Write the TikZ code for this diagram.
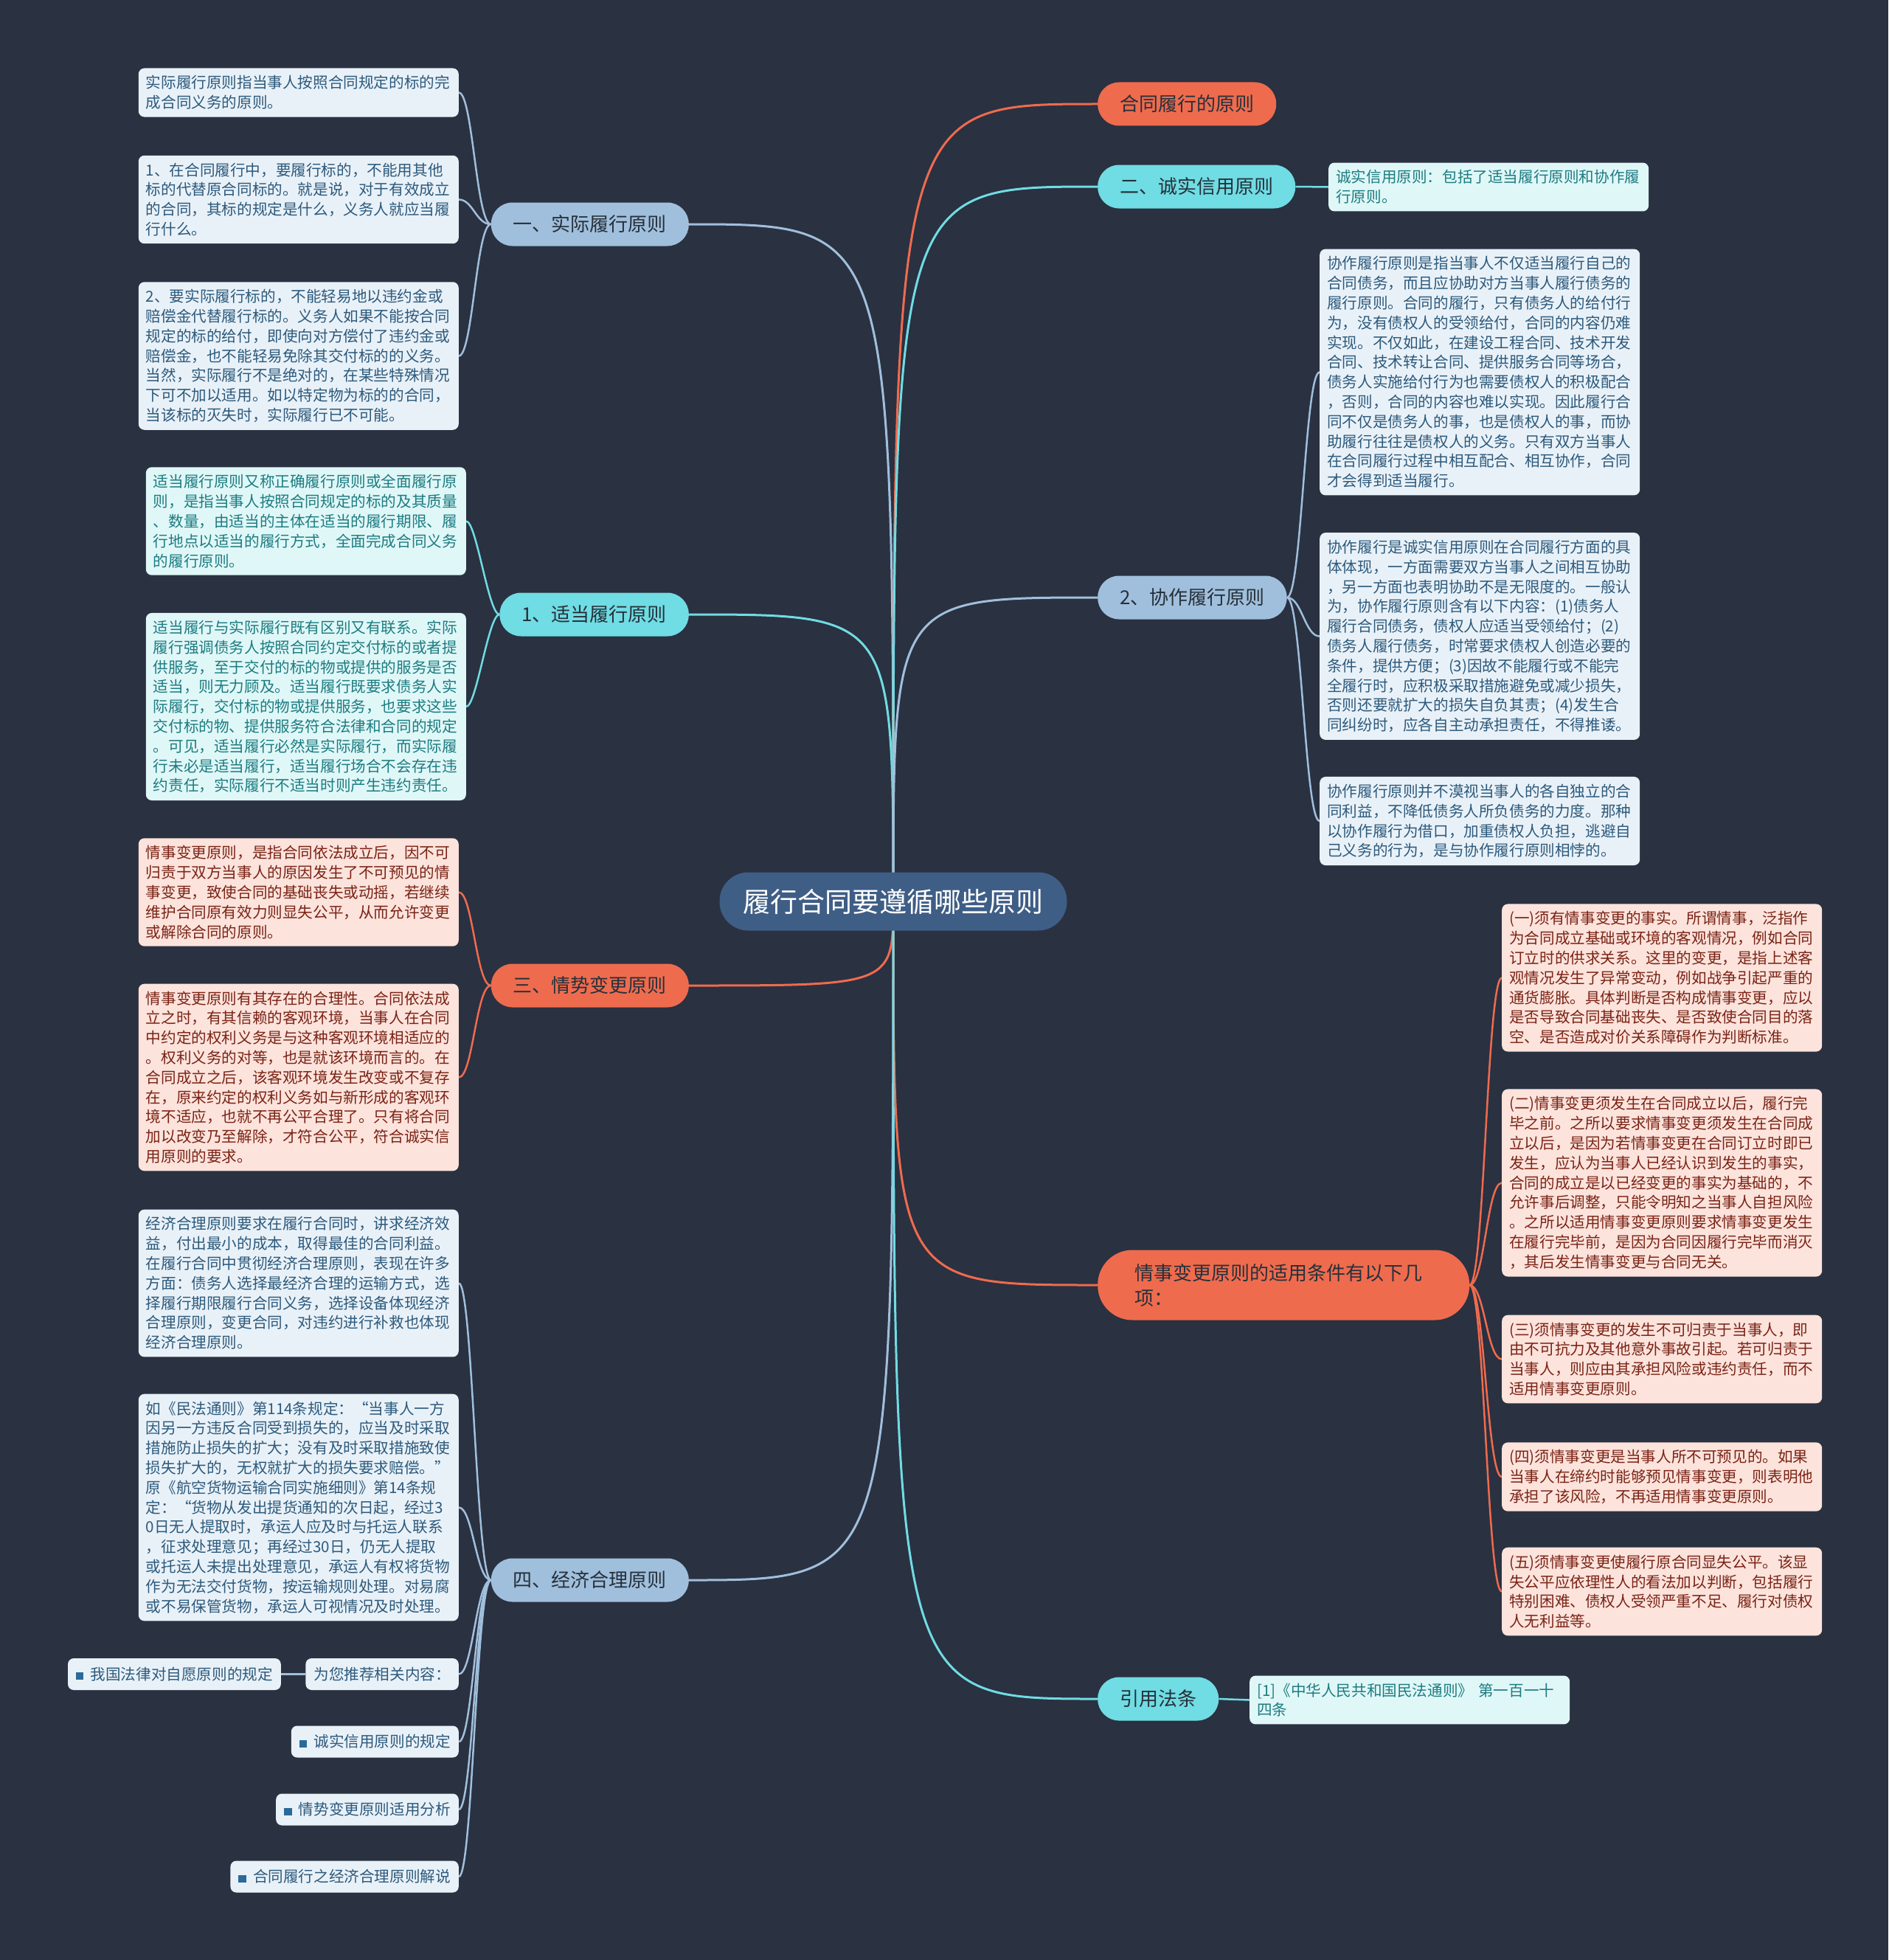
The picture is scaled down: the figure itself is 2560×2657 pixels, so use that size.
\documentclass[tikz,border=0pt]{standalone}
\usepackage{fontspec}
\setmainfont{Noto Sans CJK SC}
\usepackage{tikz}
\usetikzlibrary{calc}
\definecolor{bgdark}{HTML}{2A3141}
\definecolor{ctrfill}{HTML}{3F5E86}
\definecolor{coral}{HTML}{EF6B4E}
\definecolor{cyanb}{HTML}{70DCE3}
\definecolor{steel}{HTML}{A0BFDC}
\definecolor{steelleaf}{HTML}{E9F1F8}
\definecolor{steeltext}{HTML}{2C5A7C}
\definecolor{cyanleaf}{HTML}{E0F7F8}
\definecolor{cyantext}{HTML}{1C7C80}
\definecolor{coralleaf}{HTML}{FCE3DC}
\definecolor{coraltext}{HTML}{7A2315}
\definecolor{branchtext}{HTML}{26303A}
\definecolor{bulletblue}{HTML}{2A6A9A}
\pgfdeclarelayer{back}
\pgfdeclarelayer{links}
\pgfsetlayers{back,links,main}
\newcommand{\recmark}{\textcolor{bulletblue}{\rule{0.5em}{0.5em}}\hspace{0.45em}}

\begin{document}
\begin{tikzpicture}[x=1pt, y=-1pt,
  centre/.style={fill=ctrfill, text=white, rounded corners=39pt, minimum height=79pt,
    minimum width=471pt, font=\fontsize{37}{40}\selectfont},
  branch/.style={rounded corners=29pt, minimum height=59pt, inner xsep=30pt,
    text=branchtext, font=\fontsize{26}{34}\selectfont},
  leaf/.style={rounded corners=8pt, inner xsep=10pt, inner ysep=10pt, text width=414pt,
    align=left, font=\fontsize{20.6}{26.8}\selectfont},
  steelleafbox/.style={leaf, fill=steelleaf, text=steeltext},
  cyanleafbox/.style={leaf, fill=cyanleaf, text=cyantext},
  coralleafbox/.style={leaf, fill=coralleaf, text=coraltext},
  recbox/.style={rounded corners=8pt, fill=steelleaf, text=steeltext, inner xsep=11pt,
    minimum height=43pt, font=\fontsize{20.6}{26}\selectfont},
  trunk/.style={line width=3pt},
  twig/.style={line width=2.5pt}]

  % background and frame
  \begin{pgfonlayer}{back}
    \fill[bgdark] (0,0) rectangle (2560,2657);
  \end{pgfonlayer}
  \useasboundingbox (0,0) rectangle (2560,2657);

  % centre
  \node[centre] (ctr) at (1211,1222) {履行合同要遵循哪些原则};

  % left branches
  \node[branch, fill=steel, anchor=east] (b1) at (934,304) {一、实际履行原则};
  \node[branch, fill=cyanb, anchor=east] (b2) at (934,833) {1、适当履行原则};
  \node[branch, fill=coral, anchor=east] (b3) at (934,1336) {三、情势变更原则};
  \node[branch, fill=steel, anchor=east] (b4) at (934,2142) {四、经济合理原则};

  % right branches
  \node[branch, fill=coral, anchor=west] (r1) at (1488,141) {合同履行的原则};
  \node[branch, fill=cyanb, anchor=west] (r2) at (1488,253) {二、诚实信用原则};
  \node[branch, fill=steel, anchor=west] (r3) at (1488,810) {2、协作履行原则};
  \node[branch, fill=coral, anchor=west, rounded corners=47pt, minimum height=95pt,
    inner xsep=50pt, text width=404pt, align=left] (r4) at (1488,1742)
    {情事变更原则的适用条件有以下几\\项：};
  \node[branch, fill=cyanb, anchor=west] (r5) at (1488,2303) {引用法条};

  % leaves of b1
  \node[steelleafbox, anchor=east] (b1a) at (622,125.5)
    {实际履行原则指当事人按照合同规定的标的完\\成合同义务的原则。};
  \node[steelleafbox, anchor=east] (b1b) at (622,270.5)
    {1、在合同履行中，要履行标的，不能用其他\\标的代替原合同标的。就是说，对于有效成立\\的合同，其标的规定是什么，义务人就应当履\\行什么。};
  \node[steelleafbox, anchor=east] (b1c) at (622,482.5)
    {2、要实际履行标的，不能轻易地以违约金或\\赔偿金代替履行标的。义务人如果不能按合同\\规定的标的给付，即使向对方偿付了违约金或\\赔偿金，也不能轻易免除其交付标的的义务。\\当然，实际履行不是绝对的，在某些特殊情况\\下可不加以适用。如以特定物为标的的合同，\\当该标的灭失时，实际履行已不可能。};

  % leaves of b2
  \node[cyanleafbox, anchor=east] (b2a) at (632,706.5)
    {适当履行原则又称正确履行原则或全面履行原\\则，是指当事人按照合同规定的标的及其质量\\、数量，由适当的主体在适当的履行期限、履\\行地点以适当的履行方式，全面完成合同义务\\的履行原则。};
  \node[cyanleafbox, anchor=east] (b2b) at (632,958)
    {适当履行与实际履行既有区别又有联系。实际\\履行强调债务人按照合同约定交付标的或者提\\供服务，至于交付的标的物或提供的服务是否\\适当，则无力顾及。适当履行既要求债务人实\\际履行，交付标的物或提供服务，也要求这些\\交付标的物、提供服务符合法律和合同的规定\\。可见，适当履行必然是实际履行，而实际履\\行未必是适当履行，适当履行场合不会存在违\\约责任，实际履行不适当时则产生违约责任。};

  % leaves of b3
  \node[coralleafbox, anchor=east] (b3a) at (622,1209.5)
    {情事变更原则，是指合同依法成立后，因不可\\归责于双方当事人的原因发生了不可预见的情\\事变更，致使合同的基础丧失或动摇，若继续\\维护合同原有效力则显失公平，从而允许变更\\或解除合同的原则。};
  \node[coralleafbox, anchor=east] (b3b) at (622,1460.5)
    {情事变更原则有其存在的合理性。合同依法成\\立之时，有其信赖的客观环境，当事人在合同\\中约定的权利义务是与这种客观环境相适应的\\。权利义务的对等，也是就该环境而言的。在\\合同成立之后，该客观环境发生改变或不复存\\在，原来约定的权利义务如与新形成的客观环\\境不适应，也就不再公平合理了。只有将合同\\加以改变乃至解除，才符合公平，符合诚实信\\用原则的要求。};

  % leaves of b4
  \node[steelleafbox, anchor=east] (b4a) at (622,1739.5)
    {经济合理原则要求在履行合同时，讲求经济效\\益，付出最小的成本，取得最佳的合同利益。\\在履行合同中贯彻经济合理原则，表现在许多\\方面：债务人选择最经济合理的运输方式，选\\择履行期限履行合同义务，选择设备体现经济\\合理原则，变更合同，对违约进行补救也体现\\经济合理原则。};
  \node[steelleafbox, anchor=east] (b4b) at (622,2043.5)
    {如《民法通则》第114条规定：“当事人一方\\因另一方违反合同受到损失的，应当及时采取\\措施防止损失的扩大；没有及时采取措施致使\\损失扩大的，无权就扩大的损失要求赔偿。”\\原《航空货物运输合同实施细则》第14条规\\定：“货物从发出提货通知的次日起，经过3\\0日无人提取时，承运人应及时与托运人联系\\，征求处理意见；再经过30日，仍无人提取\\或托运人未提出处理意见，承运人有权将货物\\作为无法交付货物，按运输规则处理。对易腐\\或不易保管货物，承运人可视情况及时处理。};
  \node[recbox, anchor=east] (rec) at (622,2269.5) {为您推荐相关内容：};
  \node[recbox, anchor=east] (rec0) at (381,2269.5) {\recmark 我国法律对自愿原则的规定};
  \node[recbox, anchor=east] (rec1) at (622,2361) {\recmark 诚实信用原则的规定};
  \node[recbox, anchor=east] (rec2) at (622,2453) {\recmark 情势变更原则适用分析};
  \node[recbox, anchor=east] (rec3) at (622,2544) {\recmark 合同履行之经济合理原则解说};

  % leaves of r2, r3
  \node[cyanleafbox, anchor=west] (r2a) at (1801,253.5)
    {诚实信用原则：包括了适当履行原则和协作履\\行原则。};
  \node[steelleafbox, anchor=west] (r3a) at (1789,504.5)
    {协作履行原则是指当事人不仅适当履行自己的\\合同债务，而且应协助对方当事人履行债务的\\履行原则。合同的履行，只有债务人的给付行\\为，没有债权人的受领给付，合同的内容仍难\\实现。不仅如此，在建设工程合同、技术开发\\合同、技术转让合同、提供服务合同等场合，\\债务人实施给付行为也需要债权人的积极配合\\，否则，合同的内容也难以实现。因此履行合\\同不仅是债务人的事，也是债权人的事，而协\\助履行往往是债权人的义务。只有双方当事人\\在合同履行过程中相互配合、相互协作，合同\\才会得到适当履行。};
  \node[steelleafbox, anchor=west] (r3b) at (1789,862.5)
    {协作履行是诚实信用原则在合同履行方面的具\\体体现，一方面需要双方当事人之间相互协助\\，另一方面也表明协助不是无限度的。一般认\\为，协作履行原则含有以下内容：(1)债务人\\履行合同债务，债权人应适当受领给付；(2)\\债务人履行债务，时常要求债权人创造必要的\\条件，提供方便；(3)因故不能履行或不能完\\全履行时，应积极采取措施避免或减少损失，\\否则还要就扩大的损失自负其责；(4)发生合\\同纠纷时，应各自主动承担责任，不得推诿。};
  \node[steelleafbox, anchor=west] (r3c) at (1789,1113)
    {协作履行原则并不漠视当事人的各自独立的合\\同利益，不降低债务人所负债务的力度。那种\\以协作履行为借口，加重债权人负担，逃避自\\己义务的行为，是与协作履行原则相悖的。};

  % leaves of r4
  \node[coralleafbox, anchor=west] (r4a) at (2036,1325.5)
    {(一)须有情事变更的事实。所谓情事，泛指作\\为合同成立基础或环境的客观情况，例如合同\\订立时的供求关系。这里的变更，是指上述客\\观情况发生了异常变动，例如战争引起严重的\\通货膨胀。具体判断是否构成情事变更，应以\\是否导致合同基础丧失、是否致使合同目的落\\空、是否造成对价关系障碍作为判断标准。};
  \node[coralleafbox, anchor=west] (r4b) at (2036,1603.5)
    {(二)情事变更须发生在合同成立以后，履行完\\毕之前。之所以要求情事变更须发生在合同成\\立以后，是因为若情事变更在合同订立时即已\\发生，应认为当事人已经认识到发生的事实，\\合同的成立是以已经变更的事实为基础的，不\\允许事后调整，只能令明知之当事人自担风险\\。之所以适用情事变更原则要求情事变更发生\\在履行完毕前，是因为合同因履行完毕而消灭\\，其后发生情事变更与合同无关。};
  \node[coralleafbox, anchor=west] (r4c) at (2036,1842.5)
    {(三)须情事变更的发生不可归责于当事人，即\\由不可抗力及其他意外事故引起。若可归责于\\当事人，则应由其承担风险或违约责任，而不\\适用情事变更原则。};
  \node[coralleafbox, anchor=west] (r4d) at (2036,2002)
    {(四)须情事变更是当事人所不可预见的。如果\\当事人在缔约时能够预见情事变更，则表明他\\承担了该风险，不再适用情事变更原则。};
  \node[coralleafbox, anchor=west] (r4e) at (2036,2157.5)
    {(五)须情事变更使履行原合同显失公平。该显\\失公平应依理性人的看法加以判断，包括履行\\特别困难、债权人受领严重不足、履行对债权\\人无利益等。};

  % leaf of r5
  \node[cyanleafbox, anchor=west] (r5a) at (1694,2304.5)
    {[1]《中华人民共和国民法通则》 第一百一十\\四条};

  % connectors
  \begin{pgfonlayer}{links}
    \foreach \b/\c in {b1/steel, b2/cyanb, b3/coral, b4/steel}
      \draw[trunk, \c] (ctr.center) .. controls (ctr.center |- \b.east) .. (\b.east);
    \foreach \b/\c in {r1/coral, r2/cyanb, r3/steel, r4/coral, r5/cyanb}
      \draw[trunk, \c] (ctr.center) .. controls (ctr.center |- \b.west) .. (\b.west);

    \foreach \l in {b1a, b1b, b1c}
      \draw[twig, steel] (b1.west) .. controls +(-20,0) and +(19,0) .. (\l.east);
    \foreach \l in {b2a, b2b}
      \draw[twig, cyanb] (b2.west) .. controls +(-15,0) and +(14,0) .. (\l.east);
    \foreach \l in {b3a, b3b}
      \draw[twig, coral] (b3.west) .. controls +(-20,0) and +(19,0) .. (\l.east);
    \foreach \l in {b4a, b4b, rec, rec1, rec2, rec3}
      \draw[twig, steel] (b4.west) .. controls +(-20,0) and +(19,0) .. (\l.east);
    \draw[twig, steel] (rec.west) -- (rec0.east);

    \draw[twig, cyanb] (r2.east) -- (r2a.west);
    \foreach \l in {r3a, r3b, r3c}
      \draw[twig, steel] (r3.east) .. controls +(20,0) and +(-20,0) .. (\l.west);
    \foreach \l in {r4a, r4b, r4c, r4d, r4e}
      \draw[twig, coral] (r4.east) .. controls +(20,0) and +(-20,0) .. (\l.west);
    \draw[twig, cyanb] (r5.east) -- (r5a.west);
  \end{pgfonlayer}
\end{tikzpicture}
\end{document}
